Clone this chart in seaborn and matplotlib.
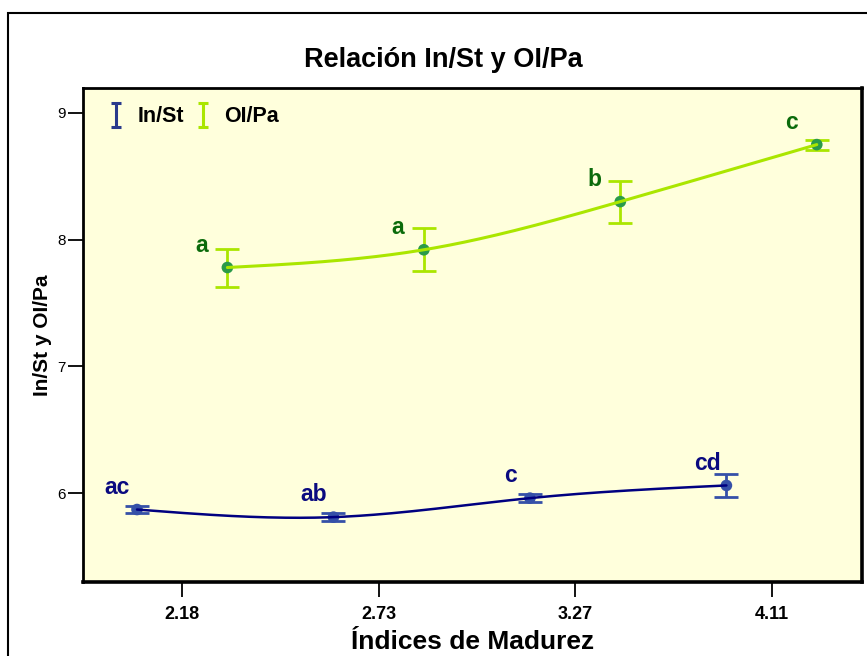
import numpy as np
import pandas as pd
import matplotlib
matplotlib.use("Agg")
import matplotlib.pyplot as plt
from matplotlib.patches import Rectangle
from matplotlib.legend_handler import HandlerErrorbar
import seaborn as sns

# ---- data ----
categories = ["2.18", "2.73", "3.27", "4.11"]
inst_mean = [5.87, 5.81, 5.96, 6.06]
inst_err = [0.03, 0.03, 0.03, 0.09]
inst_letters = ["ac", "ab", "c", "cd"]
oipa_mean = [7.78, 7.92, 8.30, 8.75]
oipa_err = [0.15, 0.17, 0.165, 0.04]
oipa_letters = ["a", "a", "b", "c"]

sns.set_theme(style="white")
plt.rcParams["font.family"] = ["Liberation Sans", "DejaVu Sans"]
plt.rcParams.update({"text.color": "black", "axes.labelcolor": "black",
                     "xtick.color": "black", "ytick.color": "black"})

fig = plt.figure(figsize=(8.67, 6.56), dpi=100)
ax = fig.add_axes([0.0957, 0.1128, 0.8985, 0.7531])
ax.set_facecolor("#FFFFDC")

pos = np.arange(len(categories))
off = 0.23

def smooth(x, y, n=200):
    # natural cubic spline through the points (drawing only)
    x = np.asarray(x, float); y = np.asarray(y, float)
    k = len(x)
    h = np.diff(x)
    A = np.zeros((k, k)); b = np.zeros(k)
    A[0, 0] = 1; A[-1, -1] = 1
    for i in range(1, k - 1):
        A[i, i - 1] = h[i - 1]; A[i, i] = 2 * (h[i - 1] + h[i]); A[i, i + 1] = h[i]
        b[i] = 3 * ((y[i + 1] - y[i]) / h[i] - (y[i] - y[i - 1]) / h[i - 1])
    c = np.linalg.solve(A, b)
    xs = np.linspace(x[0], x[-1], n)
    ys = np.empty_like(xs)
    for j, xv in enumerate(xs):
        i = min(np.searchsorted(x, xv, side="right") - 1, k - 2)
        d = (c[i + 1] - c[i]) / (3 * h[i])
        bb = (y[i + 1] - y[i]) / h[i] - h[i] * (2 * c[i] + c[i + 1]) / 3
        t = xv - x[i]
        ys[j] = y[i] + bb * t + c[i] * t ** 2 + d * t ** 3
    return xs, ys

series = [
    ("In/St", pos - off, inst_mean, inst_err, inst_letters, "#000080", "#3550A8", "#2A3A8C", "#3550A8", "#0A0A80", 1.8, -14.0),
    ("OI/Pa", pos + off, oipa_mean, oipa_err, oipa_letters, "#AAE600", "#AAE600", "#AAE600", "#2A9A4A", "#0B6B0B", 2.2, -18.5),
]

handles = []
for name, xs, ys, es, letters, lcol, ecol, legcol, mcol, tcol, lw, dx in series:
    ax.errorbar(xs, ys, yerr=es, fmt="none", ecolor=ecol, elinewidth=2.0,
                capsize=8.5, capthick=2.0, zorder=3)
    h = ax.errorbar([np.nan], [np.nan], yerr=[1.0], fmt="none", ecolor=legcol,
                    elinewidth=2.2, capsize=3.5, capthick=2.2, label=name)
    handles.append(h)
    sx, sy = smooth(xs, ys)
    sns.lineplot(x=sx, y=sy, ax=ax, color=lcol, linewidth=lw, sort=False,
                 legend=False, zorder=4)
    sns.scatterplot(x=xs, y=ys, ax=ax, color=mcol, s=70, edgecolor="none",
                    legend=False, zorder=3.5)
    for xv, yv, lt in zip(xs, ys, letters):
        ax.annotate(lt, (xv, yv), xytext=(dx, 16), textcoords="offset points",
                    ha="center", va="center", fontsize=16.5, fontweight="bold",
                    color=tcol, zorder=5)

ax.set_xlim(-0.505, 3.46)
ax.set_ylim(5.298, 9.197)
ax.set_xticks(pos)
ax.set_xticklabels(categories, fontsize=13, fontweight="bold")
ax.set_yticks([6, 7, 8, 9])
ax.set_yticklabels(["6", "7", "8", "9"], fontsize=11)
ax.tick_params(axis="both", which="both", direction="out", length=10.5, width=1.3,
               color="black", bottom=True, left=True, top=False, right=False)
ax.tick_params(axis="x", pad=7)
ax.tick_params(axis="y", pad=2)

ax.set_xlabel("Índices de Madurez", fontsize=19, fontweight="bold", labelpad=5)
ax.set_ylabel("In/St y OI/Pa", fontsize=15, fontweight="bold", labelpad=4)
ax.set_title("Relación In/St y OI/Pa", fontsize=19.5, fontweight="bold", pad=15, x=0.462)

for s in ax.spines.values():
    s.set_color("black")
    s.set_linewidth(2.0)
ax.spines["right"].set_linewidth(2.6)
ax.spines["bottom"].set_linewidth(2.6)

leg = ax.legend(handles=handles, loc="upper left", bbox_to_anchor=(0.006, 1.002), ncol=2,
                frameon=False, prop={"weight": "bold", "size": 15.5}, handlelength=0.8,
                handletextpad=0.6, columnspacing=0.5,
                handler_map={type(handles[0]): HandlerErrorbar(yerr_size=0.55)})

fig.patches.append(Rectangle((8 / 867, -0.05), 1.2, (656 - 13) / 656 + 0.05,
                             transform=fig.transFigure, fill=False,
                             edgecolor="black", linewidth=1.5, zorder=0))

fig.savefig("out.png", dpi=100)
